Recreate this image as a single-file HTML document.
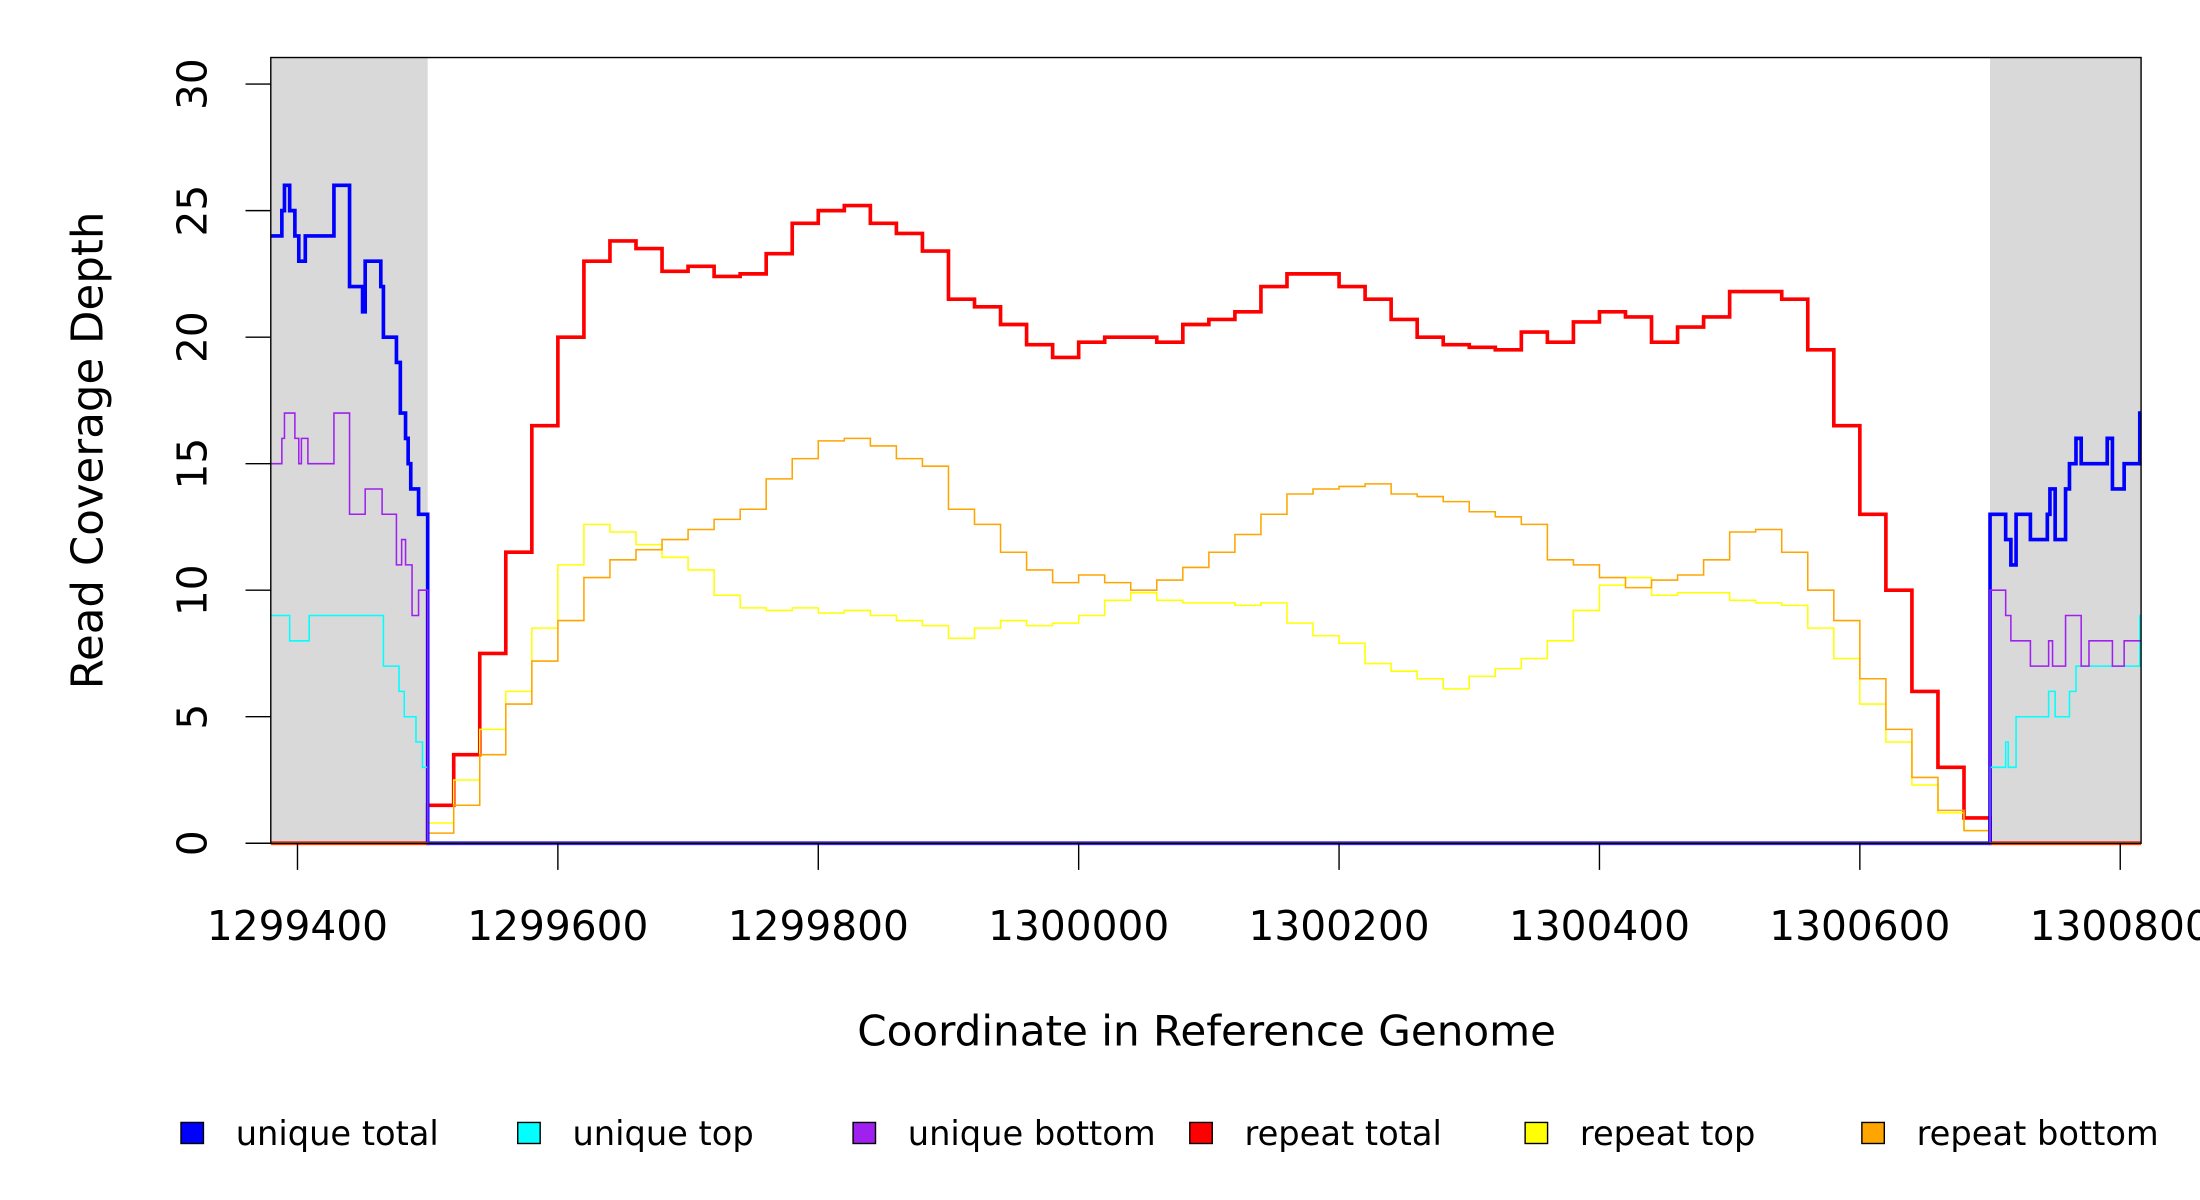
<!DOCTYPE html>
<html><head><meta charset="utf-8"><style>
html,body{margin:0;padding:0;background:#fff}
svg{display:block}
text{font-family:"DejaVu Sans","Liberation Sans",sans-serif;fill:#000}
</style></head><body>
<svg id="chart" width="2200" height="1200" viewBox="0 0 1568 855.27" xmlns="http://www.w3.org/2000/svg">
<g id="grey"></g>
<g id="lines"></g>
<rect x="193" y="41" width="1333" height="560" fill="none" stroke="#000" stroke-width="1"/>
<g id="axes"></g>
<text transform="translate(73,321) rotate(-90)" text-anchor="middle" font-size="31">Read Coverage Depth</text>
<text x="860" y="745" text-anchor="middle" font-size="30">Coordinate in Reference Genome</text>
<g id="legend"></g>
</svg>
<script>
// ---- data ----
const xTicks = [1299400,1299600,1299800,1300000,1300200,1300400,1300600,1300800];
const yTicks = [0,5,10,15,20,25,30];
const binStart = 1299500;
const binSize = 20;
const repeatTotal = [1.5,3.5,7.5,11.5,16.5,20,23,23.8,23.5,22.6,22.8,22.4,22.5,23.3,24.5,25.0,25.2,24.5,24.1,23.4,21.5,21.2,20.5,19.7,19.2,19.8,20.0,20.0,19.8,20.5,20.7,21.0,22.0,22.5,22.5,22.0,21.5,20.7,20.0,19.7,19.6,19.5,20.2,19.8,20.6,21.0,20.8,19.8,20.4,20.8,21.8,21.8,21.5,19.5,16.5,13.0,10.0,6.0,3.0,1.0];
const repeatTop = [0.8,2.5,4.5,6.0,8.5,11,12.6,12.3,11.8,11.3,10.8,9.8,9.3,9.2,9.3,9.1,9.2,9.0,8.8,8.6,8.1,8.5,8.8,8.6,8.7,9.0,9.6,9.9,9.6,9.5,9.5,9.4,9.5,8.7,8.2,7.9,7.1,6.8,6.5,6.1,6.6,6.9,7.3,8.0,9.2,10.2,10.5,9.8,9.9,9.9,9.6,9.5,9.4,8.5,7.3,5.5,4.0,2.3,1.2,0.5];
const repeatBottom = [0.4,1.5,3.5,5.5,7.2,8.8,10.5,11.2,11.6,12.0,12.4,12.8,13.2,14.4,15.2,15.9,16.0,15.7,15.2,14.9,13.2,12.6,11.5,10.8,10.3,10.6,10.3,10.0,10.4,10.9,11.5,12.2,13.0,13.8,14.0,14.1,14.2,13.8,13.7,13.5,13.1,12.9,12.6,11.2,11.0,10.5,10.1,10.4,10.6,11.2,12.3,12.4,11.5,10.0,8.8,6.5,4.5,2.6,1.3,0.5];
// unique series: step starts (genome coords) and values
const uTotalPos = [1299380,1299388,1299390,1299394,1299398,1299401,1299406,1299428,1299440,1299450,1299452,1299464,1299466,1299476,1299479,1299483,1299485,1299487,1299493,1299500,1300700,1300712,1300716,1300720,1300731,1300744,1300746,1300750,1300758,1300761,1300766,1300770,1300790,1300794,1300803,1300815];
const uTotalVal = [24,25,26,25,24,23,24,26,22,21,23,22,20,19,17,16,15,14,13,0,13,12,11,13,12,13,14,12,14,15,16,15,16,14,15,17];
const uTopPos = [1299380,1299394,1299409,1299466,1299478,1299482,1299491,1299496,1299500,1300700,1300712,1300714,1300718,1300720,1300745,1300750,1300761,1300766,1300815];
const uTopVal = [9,8,9,7,6,5,4,3,0,3,4,3,3,5,6,5,6,7,9];
const uBotPos = [1299380,1299388,1299390,1299398,1299401,1299403,1299408,1299428,1299440,1299452,1299465,1299476,1299480,1299483,1299488,1299493,1299500,1300700,1300712,1300716,1300731,1300745,1300748,1300758,1300770,1300776,1300794,1300803];
const uBotVal = [15,16,17,16,15,16,15,17,13,14,13,11,12,11,9,10,0,10,9,8,7,8,7,9,7,8,7,8];
const greyRanges = [[1299379.5,1299500],[1300700,1300816]];
const xMin = 1299379.5, xMax = 1300816, yMin = 0, yMax = 31.05;

// ---- scales ----
const X = v => 193 + (v - xMin) / (xMax - xMin) * 1333;
const Y = v => 601 - (v - yMin) / (yMax - yMin) * 560;
const NS = 'http://www.w3.org/2000/svg';
function mk(tag, attrs, parent){const e=document.createElementNS(NS,tag);for(const k in attrs)e.setAttribute(k,attrs[k]);parent.appendChild(e);return e;}

const grey = document.getElementById('grey');
greyRanges.forEach(r=>{
  const e = mk('rect',{x:X(r[0]),y:41,width:X(r[1])-X(r[0]),height:560,fill:'#d9d9d9'},grey);
  
  
});

function binPath(vals){
  let d = 'M'+X(xMin)+' '+Y(0)+' H'+X(binStart);
  vals.forEach((v,i)=>{ d += ' V'+Y(v)+' H'+X(binStart+(i+1)*binSize); });
  d += ' V'+Y(0)+' H'+X(xMax);
  return d;
}
function stepPath(pos,vals){
  let d = 'M'+X(pos[0])+' '+Y(vals[0]);
  for(let i=1;i<pos.length;i++){ d += ' H'+X(pos[i])+' V'+Y(vals[i]); }
  d += ' H'+X(xMax);
  return d;
}
const lines = document.getElementById('lines');
let p;
p = mk('path',{d:binPath(repeatTotal),fill:'none',stroke:'#ff0000','stroke-width':2.6},lines);


p = mk('path',{d:binPath(repeatTop),fill:'none',stroke:'#ffff00','stroke-width':1.1},lines);


p = mk('path',{d:binPath(repeatBottom),fill:'none',stroke:'#ffa500','stroke-width':1.1},lines);


p = mk('path',{d:stepPath(uTotalPos,uTotalVal),fill:'none',stroke:'#0000ff','stroke-width':2.6},lines);


p = mk('path',{d:stepPath(uTopPos,uTopVal),fill:'none',stroke:'#00ffff','stroke-width':1.1},lines);


p = mk('path',{d:stepPath(uBotPos,uBotVal),fill:'none',stroke:'#a020f0','stroke-width':1.1},lines);


greyRanges.forEach(r=>{
  const b = mk('line',{x1:X(r[0]),x2:X(r[1]),y1:Y(0),y2:Y(0),stroke:'#ffa500','stroke-width':1.6},lines);
  
  
});
const mid = mk('line',{x1:X(1299500),x2:X(1300700),y1:Y(0),y2:Y(0),stroke:'#6a3cf0','stroke-width':2},lines);



const axes = document.getElementById('axes');
xTicks.forEach(t=>{
  const l = mk('line',{x1:X(t),x2:X(t),y1:601,y2:620,stroke:'#000','stroke-width':1},axes);
  
  
  const tx = mk('text',{x:X(t),y:670,'text-anchor':'middle','font-size':29},axes);
  tx.textContent = t;
  
  
});
yTicks.forEach(t=>{
  const l = mk('line',{x1:175,x2:193,y1:Y(t),y2:Y(t),stroke:'#000','stroke-width':1},axes);
  
  
  const tx = mk('text',{transform:'translate(147,'+Y(t)+') rotate(-90)','text-anchor':'middle','font-size':29},axes);
  tx.textContent = t;
  
  
});

const legendNames = ['unique total','unique top','unique bottom','repeat total','repeat top','repeat bottom'];
const legendColors = ['#0000ff','#00ffff','#a020f0','#ff0000','#ffff00','#ffa500'];
const legendX = [129,369,608,848,1087,1327];
const legend = document.getElementById('legend');
legendNames.forEach((n,i)=>{
  const g = mk('g',{},legend);
  
  
  const r = mk('rect',{x:legendX[i],y:800,width:16,height:15,fill:legendColors[i],stroke:'#000','stroke-width':1},g);
  
  
  const t = mk('text',{x:legendX[i]+39,y:816,'font-size':24},g);
  t.textContent = n;
  
  
});
</script>
</body></html>
